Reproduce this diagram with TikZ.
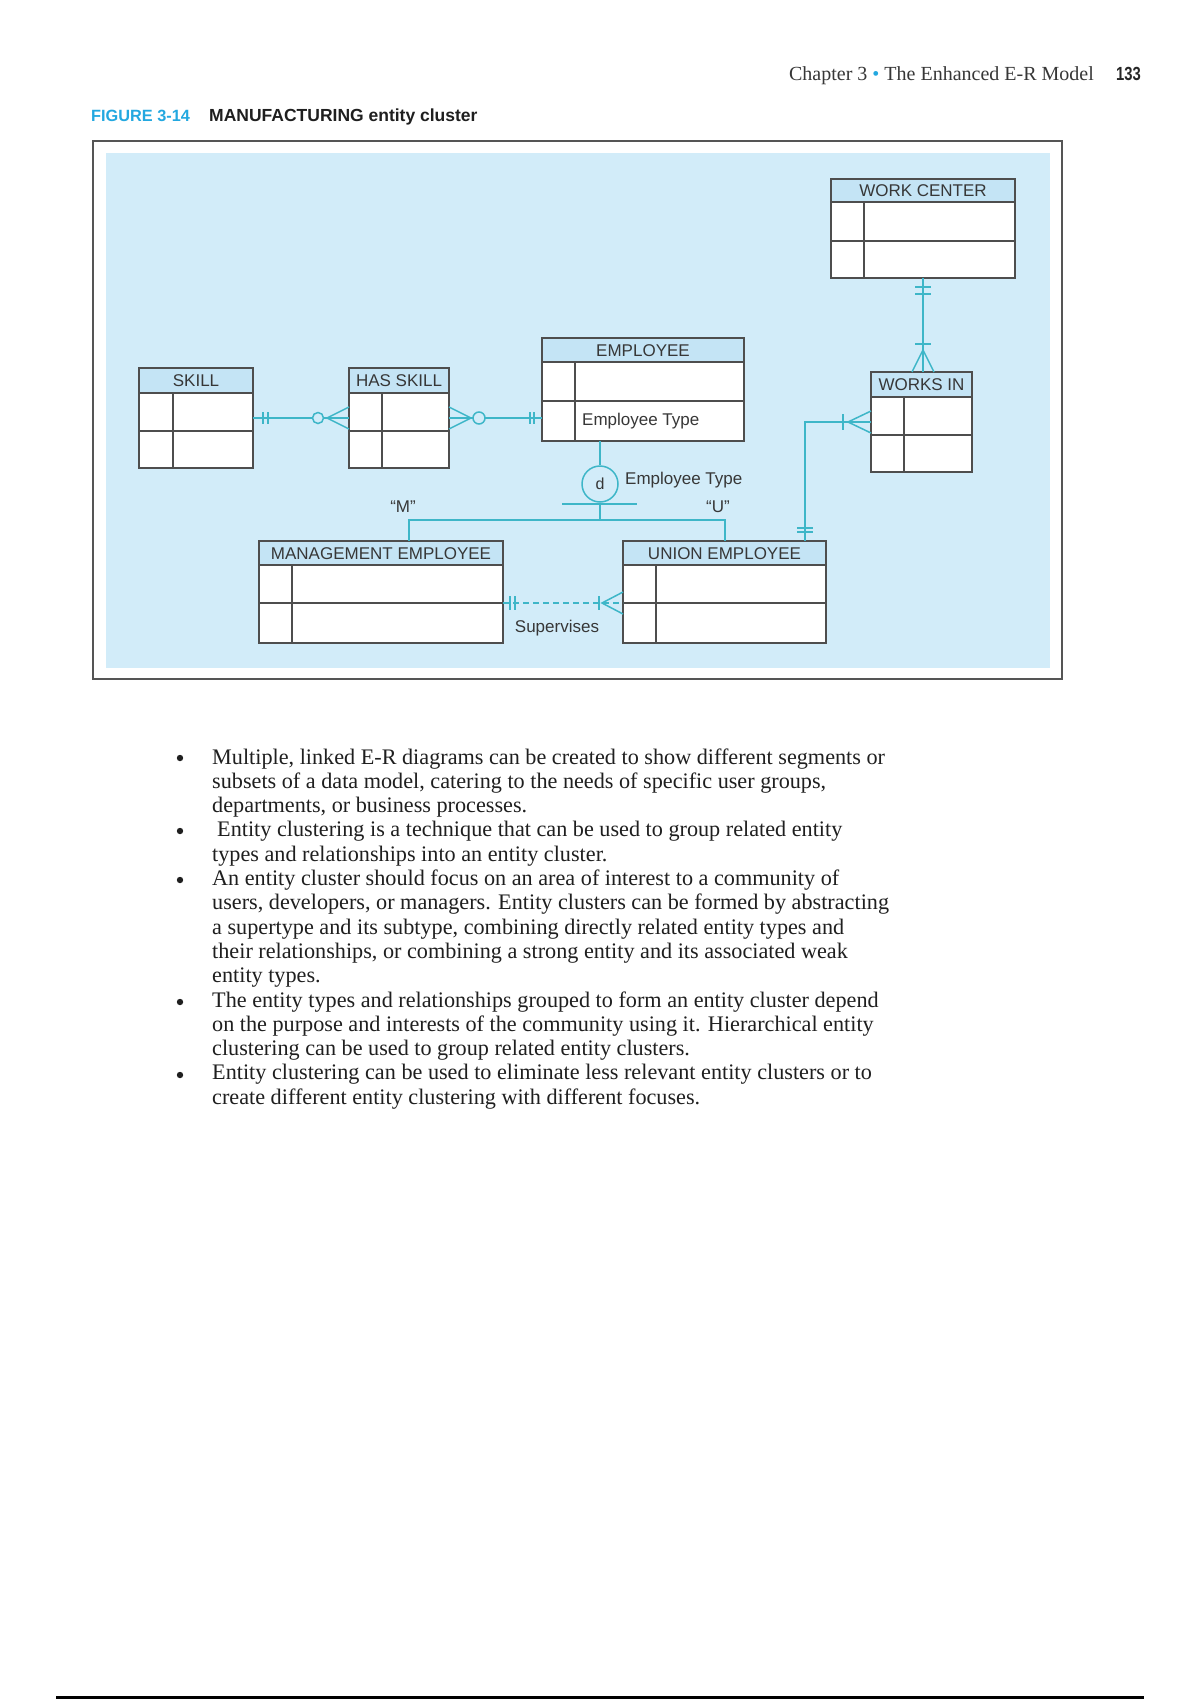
\documentclass[tikz,border=0pt]{standalone}
\usepackage{fontspec}
\setmainfont{Liberation Serif}
\newfontfamily\diagfont{Liberation Sans}
\usetikzlibrary{calc}

\definecolor{bgblue}{RGB}{210,236,249}
\definecolor{hdrblue}{RGB}{196,228,245}
\definecolor{conncol}{RGB}{62,182,200}
\definecolor{boxgray}{RGB}{78,78,78}
\definecolor{figcyan}{RGB}{35,168,224}
\definecolor{txtgray}{RGB}{55,55,55}
\definecolor{framegray}{RGB}{85,85,85}

\tikzset{
  entity/.style={draw=boxgray, line width=1.6pt, fill=white, inner sep=0pt, outer sep=0pt, rectangle},
  boxline/.style={draw=boxgray, line width=1.6pt},
  conn/.style={draw=conncol, line width=1.5pt},
  etitle/.style={font=\diagfont\fontsize{17}{20}\selectfont, text=txtgray, inner sep=0pt},
  lbl/.style={font=\diagfont\fontsize{17}{20}\selectfont, text=txtgray, inner sep=0pt},
  bodyline/.style={anchor=base west, inner sep=0pt, font=\fontsize{22.2}{24}\selectfont, text=black!88},
  bulletdot/.style={circle, fill=black!88, inner sep=0pt, minimum size=6.4pt},
}

% #1 name, #2 x1, #3 y1, #4 x2, #5 y2, #6 header bottom, #7 row divider, #8 column divider, #9 title
\newcommand{\entbox}[9]{%
  \node[entity, anchor=north west, minimum width={(#4)-(#2)}, minimum height={(#5)-(#3)}] (#1) at (#2,#3) {};
  \fill[hdrblue] (#2,#3) rectangle (#4,#6);
  \draw[boxline] (#2,#6) -- (#4,#6) (#2,#7) -- (#4,#7) (#8,#6) -- (#8,#5);
  \draw[boxline, line join=miter] (#1.north west) rectangle (#1.south east);
  \node[etitle] (#1t) at ({(#2+#4)/2},{(#3+#6)/2+0.5}) {#9};
}

\begin{document}
\begin{tikzpicture}[x=1pt,y=-1pt]
\useasboundingbox (0,0) rectangle (1200,1700);
\fill[white] (0,0) rectangle (1200,1700);

% running head
\node[anchor=base east, inner sep=0pt, font=\fontsize{20}{24}\selectfont, text=txtgray] (runhead) at (1094,80) {Chapter 3 \textcolor{figcyan}{\textbullet} The Enhanced E-R Model};
\node[anchor=base west, inner sep=0pt, font=\diagfont\bfseries\fontsize{19}{22}\selectfont, text=black!85] (pagenum) at (1116,80) {\scalebox{0.78}[1]{133}};

% caption
\node[anchor=base west, inner sep=0pt, font=\diagfont\bfseries\fontsize{16.3}{19}\selectfont, text=figcyan] (fignum) at (91,121) {FIGURE 3-14};
\node[anchor=base west, inner sep=0pt, font=\diagfont\bfseries\fontsize{17.5}{19}\selectfont, text=black!88] (figtitle) at (209,121) {MANUFACTURING entity cluster};

% frame and background
\draw[draw=framegray, line width=2.2pt] (93,141) rectangle (1062,679);
\fill[bgblue] (106,153) rectangle (1050,668);

% entities
\entbox{wc}{831}{179}{1015}{278}{202}{241}{864}{WORK CENTER}
\entbox{wi}{871}{372}{972}{472}{397}{435}{904}{WORKS IN}
\entbox{sk}{139}{368}{253}{468}{393}{431}{173}{SKILL}
\entbox{hs}{349}{368}{449}{468}{393}{431}{382}{HAS SKILL}
\entbox{emp}{542}{338}{744}{441}{362}{401}{575}{EMPLOYEE}
\entbox{me}{259}{541}{503}{643}{565}{603}{292}{MANAGEMENT EMPLOYEE}
\entbox{ue}{623}{541}{826}{643}{565}{603}{656}{UNION EMPLOYEE}

\node[lbl, anchor=west] (empattr) at (582,421) {Employee Type};

% SKILL -- HAS SKILL
\draw[conn] (sk.east) -- (hs.west);
\draw[conn] ($(sk.east)+(10,-6)$) -- ++(0,12);
\draw[conn] ($(sk.east)+(15,-6)$) -- ++(0,12);
\draw[conn] ($(hs.west)+(-22,0)$) -- ($(hs.west)+(0,-11)$);
\draw[conn] ($(hs.west)+(-22,0)$) -- ($(hs.west)+(0,11)$);
\draw[conn, fill=bgblue] ($(hs.west)+(-31,0)$) circle (5.5);

% HAS SKILL -- EMPLOYEE
\draw[conn] (hs.east) -- (hs.east -| emp.west);
\draw[conn] ($(hs.east)+(0,-11)$) -- ($(hs.east)+(22,0)$) -- ($(hs.east)+(0,11)$);
\draw[conn, fill=bgblue] ($(hs.east)+(30,0)$) circle (6);
\draw[conn] ($(hs.east -| emp.west)+(-12,-6)$) -- ++(0,12);
\draw[conn] ($(hs.east -| emp.west)+(-8,-6)$) -- ++(0,12);

% WORK CENTER -- WORKS IN
\draw[conn] (wc.south) -- (wc.south |- wi.north);
\draw[conn] ($(wc.south)+(-8,9)$) -- ++(16,0);
\draw[conn] ($(wc.south)+(-8,16)$) -- ++(16,0);
\draw[conn] ($(wc.south |- wi.north)+(-8,-28)$) -- ++(16,0);
\draw[conn] ($(wc.south |- wi.north)+(-11,0)$) -- ($(wc.south |- wi.north)+(0,-22)$) -- ($(wc.south |- wi.north)+(11,0)$);

% UNION EMPLOYEE -- WORKS IN
\coordinate (wiin) at (805,422);
\draw[conn] (ue.north -| wiin) -- (wiin) -- (wi.west);
\draw[conn] ($(ue.north -| wiin)+(-8,-13)$) -- ++(16,0);
\draw[conn] ($(ue.north -| wiin)+(-8,-9)$) -- ++(16,0);
\draw[conn] ($(wi.west)+(-28,-8)$) -- ++(0,16);
\draw[conn] ($(wi.west)+(0,-11)$) -- ($(wi.west)+(-23,0)$) -- ($(wi.west)+(0,11)$);

% supertype / subtype
\node[circle, draw=conncol, line width=1.5pt, fill=bgblue, minimum size=36pt, inner sep=0pt,
      font=\diagfont\fontsize{16}{18}\selectfont, text=txtgray] (dc) at (600,484) {d};
\draw[conn] (dc.north |- emp.south) -- (dc.north);
\draw[conn] ($(dc.south)+(-38,1)$) -- ($(dc.south)+(37,1)$);
\coordinate (split) at (600,520);
\coordinate (mleft) at (409,520);
\coordinate (uright) at (725,520);
\draw[conn] (dc.south) -- (split);
\draw[conn] (mleft |- me.north) -- (mleft) -- (uright) -- (uright |- ue.north);
\node[lbl, anchor=west] (etlabel) at (625,480) {Employee Type};
\node[lbl] (mq) at (403,507) {“M”};
\node[lbl] (uq) at (718,507) {“U”};

% Supervises
\coordinate (supy) at (560,603);
\draw[conn, dash pattern=on 6pt off 4pt] (supy -| me.east) -- (supy -| ue.west);
\draw[conn] ($(supy -| me.east)+(7,-7)$) -- ++(0,14);
\draw[conn] ($(supy -| me.east)+(12,-7)$) -- ++(0,14);
\draw[conn] ($(supy -| ue.west)+(-24,-7)$) -- ++(0,14);
\draw[conn] ($(supy -| ue.west)+(0,-11)$) -- ($(supy -| ue.west)+(-21,0)$) -- ($(supy -| ue.west)+(0,11)$);
\node[lbl] (suplbl) at (557,628) {Supervises};

% body text
\node[bulletdot] (b1) at (180,758) {};
\node[bulletdot] (b2) at (180,831) {};
\node[bulletdot] (b3) at (180,880) {};
\node[bulletdot] (b4) at (180,1002) {};
\node[bulletdot] (b5) at (180,1075) {};
\node[bodyline] (l1) at (212,764.0) {Multiple, linked E-R diagrams can be created to show different segments or};
\node[bodyline] (l2) at (212,788.3) {subsets of a data model, catering to the needs of specific user groups,};
\node[bodyline] (l3) at (212,812.6) {departments, or business processes.};
\node[bodyline] (l4) at (217,836.9) {Entity clustering is a technique that can be used to group related entity};
\node[bodyline] (l5) at (212,861.2) {types and relationships into an entity cluster.};
\node[bodyline] (l6) at (212,885.5) {An entity cluster should focus on an area of interest to a community of};
\node[bodyline] (l7) at (212,909.8) {users, developers, or managers. Entity clusters can be formed by abstracting};
\node[bodyline] (l8) at (212,934.1) {a supertype and its subtype, combining directly related entity types and};
\node[bodyline] (l9) at (212,958.4) {their relationships, or combining a strong entity and its associated weak};
\node[bodyline] (l10) at (212,982.7) {entity types.};
\node[bodyline] (l11) at (212,1007.0) {The entity types and relationships grouped to form an entity cluster depend};
\node[bodyline] (l12) at (212,1031.3) {on the purpose and interests of the community using it. Hierarchical entity};
\node[bodyline] (l13) at (212,1055.6) {clustering can be used to group related entity clusters.};
\node[bodyline] (l14) at (212,1079.9) {Entity clustering can be used to eliminate less relevant entity clusters or to};
\node[bodyline] (l15) at (212,1104.2) {create different entity clustering with different focuses.};

% bottom rule
\draw[line width=3pt, black] (56,1697) -- (1144,1697);
\end{tikzpicture}
\end{document}
